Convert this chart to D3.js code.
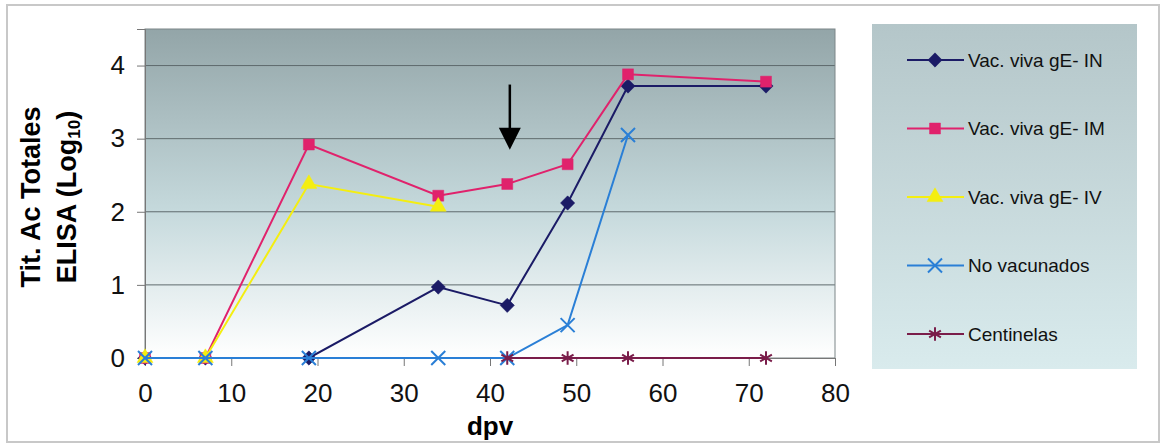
<!DOCTYPE html>
<meta charset="utf-8">
<style>
body { margin: 0; background: #fff; }
svg { font-family: Arial, "Liberation Sans", sans-serif; }
</style>
<svg width="1163" height="446"></svg>
<script src="https://d3js.org/d3.v7.min.js"></script>
<script>

var dpv = [0, 7, 19, 34, 42, 49, 56, 72];

var seriesNames = ["Vac. viva gE- IN", "Vac. viva gE- IM", "Vac. viva gE- IV", "No vacunados", "Centinelas"];

// null = no sample on that day
var vivaIN   = [0, 0, 0,    0.97, 0.72, 2.12, 3.72, 3.72];
var vivaIM   = [0, 0, 2.92, 2.22, 2.38, 2.65, 3.88, 3.78];
var vivaIV   = [0, 0, 2.38, 2.07, null, null, null, null];
var noVac    = [0, 0, 0,    0,    0,    0.45, 3.05, null];
var centinel = [null, null, null, null, 0, 0, 0, 0];

var xTicks = [0, 10, 20, 30, 40, 50, 60, 70, 80];
var yTicks = [0, 1, 2, 3, 4];

var arrowDay = 42.3, arrowFrom = 3.74, arrowTo = 2.85;

var svg = d3.select("svg");

// outer frame first, everything else on top
svg.append("rect").attr("x", 7).attr("y", 5).attr("width", 1152).attr("height", 437)
    .attr("fill", "#fff").attr("stroke", "#c8c8c8").attr("stroke-width", 2);

var margin = {top: 29, left: 145},
    width = 690, height = 329,
    g = svg.append("g").attr("transform", "translate(" + margin.left + "," + margin.top + ")");

var x = d3.scaleLinear().domain([0, 80]).range([0, width]);
var y = d3.scaleLinear().domain([0, 4.5]).range([height, 0]);

var colors = ["#1b1b66", "#e0226c", "#f4ee10", "#2a7fd6", "#7a1d4a"];
var symbols = [d3.symbolDiamond2, d3.symbolSquare, d3.symbolTriangle, d3.symbolX, d3.symbolAsterisk];
var sizes = [130, 120, 110, 130, 130];
var filled = [true, true, true, false, false];

var defs = svg.append("defs");
var grad = defs.append("linearGradient").attr("id", "plotBg").attr("x1", 0).attr("y1", 0).attr("x2", 0).attr("y2", 1);
grad.append("stop").attr("offset", "0%").attr("stop-color", "#93a5a8");
grad.append("stop").attr("offset", "55%").attr("stop-color", "#c5d9dc");
grad.append("stop").attr("offset", "100%").attr("stop-color", "#ffffff");
var lgrad = defs.append("linearGradient").attr("id", "legBg").attr("x1", 0).attr("y1", 0).attr("x2", 0).attr("y2", 1);
lgrad.append("stop").attr("offset", "0%").attr("stop-color", "#b4c6c9");
lgrad.append("stop").attr("offset", "100%").attr("stop-color", "#d9ebed");

g.append("rect").attr("width", width).attr("height", height).attr("fill", "url(#plotBg)");

// gridlines
g.append("g").selectAll("line")
  .data(yTicks.slice(1))
  .enter().append("line")
    .attr("x1", 0).attr("x2", width)
    .attr("y1", function(d) { return y(d); }).attr("y2", function(d) { return y(d); })
    .attr("stroke", "#5f6b6d").attr("stroke-width", 1);

g.append("rect").attr("width", width).attr("height", height)
    .attr("fill", "none").attr("stroke", "#7d8688").attr("stroke-width", 1);

// axes
var xAxis = g.append("g")
    .attr("transform", "translate(0," + height + ")")
    .call(d3.axisBottom(x).tickValues(xTicks).tickFormat(d3.format("d")).tickSize(8).tickPadding(18));
var yAxis = g.append("g")
    .call(d3.axisLeft(y).tickValues(yTicks).tickFormat(d3.format("d")).tickSize(8).tickPadding(12));
[xAxis, yAxis].forEach(function(a) {
  a.selectAll("text").attr("font-size", 26).attr("fill", "#111").attr("font-family", "Arial, 'Liberation Sans', sans-serif");
  a.selectAll("line").attr("stroke", "#777");
  a.select(".domain").attr("stroke", "#777");
});

// series
var all = [vivaIN, vivaIM, vivaIV, noVac, centinel];
var line = d3.line()
    .x(function(d) { return x(d.day); })
    .y(function(d) { return y(d.v); });

all.forEach(function(vals, i) {
  var pts = dpv.map(function(d, j) { return {day: d, v: vals[j]}; });
  var present = pts.filter(function(p) { return p.v !== null; });
  var s = g.append("g");
  s.append("path").datum(present).attr("d", line)
      .attr("fill", "none").attr("stroke", colors[i]).attr("stroke-width", 2);
  s.selectAll("path.m").data(present).enter().append("path")
      .attr("class", "m")
      .attr("transform", function(p) { return "translate(" + x(p.day) + "," + y(p.v) + ")"; })
      .attr("d", d3.symbol().type(symbols[i]).size(sizes[i]))
      .attr("fill", filled[i] ? colors[i] : "none")
      .attr("stroke", colors[i]).attr("stroke-width", filled[i] ? 0.5 : 2);
});

// arrow
g.append("line")
    .attr("x1", x(arrowDay)).attr("x2", x(arrowDay))
    .attr("y1", y(arrowFrom)).attr("y2", y(arrowTo) - 18)
    .attr("stroke", "#000").attr("stroke-width", 2.5);
g.append("path")
    .attr("d", "M" + (x(arrowDay) - 11) + "," + (y(arrowTo) - 22) + "L" + (x(arrowDay) + 11) + "," + (y(arrowTo) - 22) + "L" + x(arrowDay) + "," + y(arrowTo) + "Z")
    .attr("fill", "#000");

// axis titles
svg.append("text")
    .attr("x", 490).attr("y", 435)
    .attr("text-anchor", "middle").attr("font-size", 26).attr("font-weight", "bold")
    .text("dpv");

var yt = svg.append("g").attr("transform", "translate(0,197) rotate(-90)")
    .attr("font-size", 27).attr("font-weight", "bold").attr("text-anchor", "middle");
yt.append("text").attr("x", 0).attr("y", 40).text("Tit. Ac Totales");
var t2 = yt.append("text").attr("x", 0).attr("y", 76);
t2.append("tspan").text("ELISA (Log");
t2.append("tspan").attr("font-size", 17).attr("dy", 4).text("10");
t2.append("tspan").attr("dy", -4).text(")");

// legend
var leg = svg.append("g").attr("transform", "translate(872,24)");
leg.append("rect").attr("width", 265).attr("height", 345).attr("fill", "url(#legBg)");
var item = leg.selectAll("g.item").data(seriesNames).enter().append("g")
    .attr("class", "item")
    .attr("transform", function(d, i) { return "translate(0," + (36 + i * 68.5) + ")"; });
item.append("line").attr("x1", 35).attr("x2", 92).attr("y1", 0).attr("y2", 0)
    .attr("stroke", function(d, i) { return colors[i]; }).attr("stroke-width", 2);
item.append("path")
    .attr("transform", "translate(63,0)")
    .attr("d", function(d, i) { return d3.symbol().type(symbols[i]).size(sizes[i])(); })
    .attr("fill", function(d, i) { return filled[i] ? colors[i] : "none"; })
    .attr("stroke", function(d, i) { return colors[i]; })
    .attr("stroke-width", function(d, i) { return filled[i] ? 0.5 : 2; });
item.append("text").attr("x", 96).attr("dy", "0.35em")
    .attr("font-size", 19).attr("fill", "#111")
    .text(function(d) { return d; });

</script>
